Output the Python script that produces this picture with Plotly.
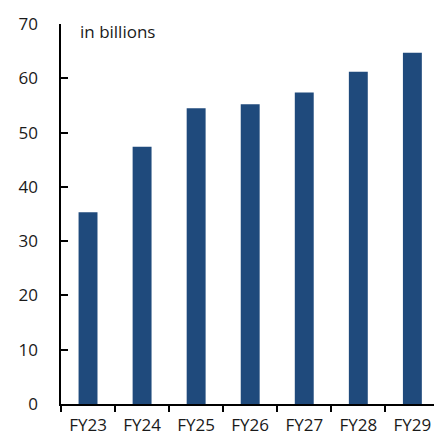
import plotly.graph_objects as go

# Fiscal years and annual totals (billions)
years = ["FY23", "FY24", "FY25", "FY26", "FY27", "FY28", "FY29"]
values = [35.3, 47.4, 54.5, 55.2, 57.4, 61.2, 64.7]
y_ticks = [0, 10, 20, 30, 40, 50, 60, 70]

bar_color = "#1f4a7c"
font_family = "'Open Sans', 'Noto Sans', sans-serif"
text_color = "#1a1a1a"

fig = go.Figure(
    go.Bar(
        x=years,
        y=values,
        marker=dict(color=bar_color, line=dict(width=0)),
        width=0.35,
    )
)

fig.update_layout(
    width=434,
    height=438,
    margin=dict(l=61, r=0, t=24, b=34),
    paper_bgcolor="white",
    plot_bgcolor="white",
    showlegend=False,
    font=dict(family=font_family, size=17, color=text_color),
    annotations=[
        dict(
            text="in billions",
            xref="paper",
            yref="paper",
            x=0.045,
            y=0.981,
            xanchor="left",
            yanchor="middle",
            showarrow=False,
            font=dict(family=font_family, size=17, color=text_color),
        )
    ],
)

fig.update_xaxes(
    type="category",
    range=[-0.5, 6.4],
    automargin=False,
    showline=True,
    linecolor="black",
    linewidth=2,
    ticks="outside",
    tickson="boundaries",
    ticklen=6,
    tickwidth=2,
    tickcolor="black",
    showgrid=False,
    zeroline=False,
    ticklabelstandoff=5,
    tickfont=dict(family=font_family, size=17, color=text_color),
)

# Padding spaces in the labels keep them clear of the inside ticks
fig.update_yaxes(
    range=[0, 70],
    tickvals=y_ticks,
    ticktext=[f"{v}    " for v in y_ticks],
    automargin=False,
    showline=True,
    linecolor="black",
    linewidth=2,
    ticks="inside",
    ticklen=7,
    tickwidth=2,
    tickcolor="black",
    showgrid=False,
    zeroline=False,
    tickfont=dict(family=font_family, size=17, color=text_color),
)

fig.write_html("out.html")
